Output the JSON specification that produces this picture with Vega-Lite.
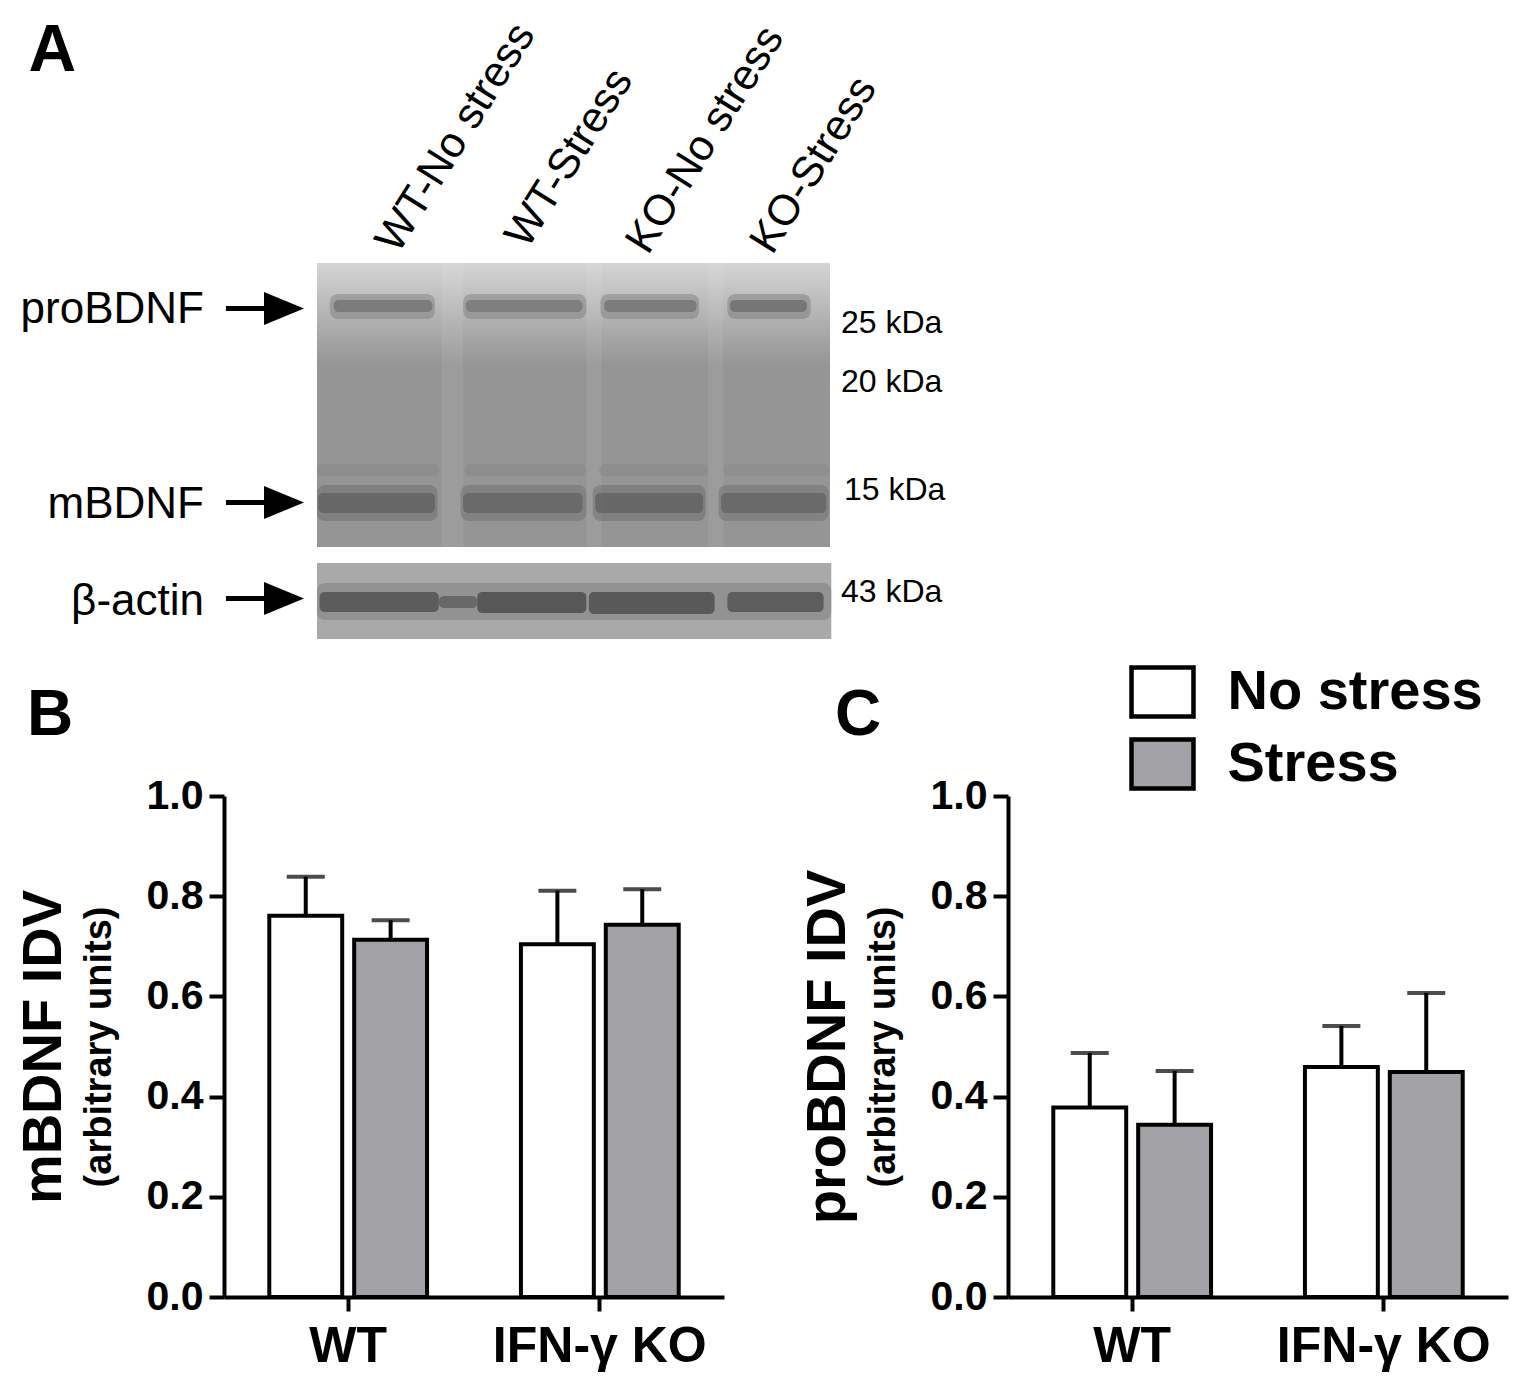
{
  "$schema": "https://vega.github.io/schema/vega-lite/v6.json",
  "background": "white",
  "padding": {"left": 15, "top": 0, "right": 10, "bottom": 10},
  "config": {"view": {"stroke": null}, "font": "Liberation Sans"},
  "datasets": {
    "blot": [
      {"kind": "bg", "x": 0.5, "x2": 4.5, "y": 26.3, "y2": 54.7, "density": 0.4},
      {"kind": "bg", "x": 0.5, "x2": 4.51, "y": 56.3, "y2": 63.9, "density": 0.31},
      {"kind": "glow", "x": 0.5, "x2": 4.5, "y": 26.3, "y2": 36.5},
      {"kind": "streak", "x": 1.47, "x2": 1.64, "y": 26.3, "y2": 54.7, "density": 0.3},
      {"kind": "streak", "x": 2.6, "x2": 2.72, "y": 26.3, "y2": 54.7, "density": 0.3},
      {"kind": "streak", "x": 3.55, "x2": 3.67, "y": 26.3, "y2": 54.7, "density": 0.3},
      {"kind": "halo", "x": 0.6, "x2": 1.42, "y": 29.4, "y2": 31.9, "density": 0.62},
      {"kind": "halo", "x": 1.64, "x2": 2.6, "y": 29.4, "y2": 31.9, "density": 0.62},
      {"kind": "halo", "x": 2.71, "x2": 3.48, "y": 29.4, "y2": 31.9, "density": 0.62},
      {"kind": "halo", "x": 3.7, "x2": 4.35, "y": 29.4, "y2": 31.9, "density": 0.64},
      {"kind": "band", "x": 0.63, "x2": 1.4, "y": 30.0, "y2": 31.2, "density": 0.62},
      {"kind": "band", "x": 1.66, "x2": 2.57, "y": 30.0, "y2": 31.2, "density": 0.6},
      {"kind": "band", "x": 2.74, "x2": 3.46, "y": 30.0, "y2": 31.2, "density": 0.62},
      {"kind": "band", "x": 3.72, "x2": 4.32, "y": 30.0, "y2": 31.2, "density": 0.66},
      {"kind": "halo", "x": 0.5, "x2": 1.45, "y": 46.4, "y2": 47.6, "density": 0.5},
      {"kind": "halo", "x": 1.65, "x2": 2.6, "y": 46.4, "y2": 47.6, "density": 0.5},
      {"kind": "halo", "x": 2.7, "x2": 3.55, "y": 46.4, "y2": 47.6, "density": 0.5},
      {"kind": "halo", "x": 3.67, "x2": 4.5, "y": 46.4, "y2": 47.6, "density": 0.48},
      {"kind": "halo", "x": 0.5, "x2": 1.44, "y": 48.5, "y2": 52.1, "density": 0.68},
      {"kind": "halo", "x": 1.62, "x2": 2.6, "y": 48.5, "y2": 52.1, "density": 0.66},
      {"kind": "halo", "x": 2.65, "x2": 3.53, "y": 48.5, "y2": 52.1, "density": 0.68},
      {"kind": "halo", "x": 3.63, "x2": 4.49, "y": 48.5, "y2": 52.1, "density": 0.66},
      {"kind": "band", "x": 0.51, "x2": 1.42, "y": 49.3, "y2": 51.3, "density": 0.7},
      {"kind": "band", "x": 1.64, "x2": 2.57, "y": 49.3, "y2": 51.3, "density": 0.68},
      {"kind": "band", "x": 2.67, "x2": 3.51, "y": 49.3, "y2": 51.3, "density": 0.7},
      {"kind": "band", "x": 3.65, "x2": 4.47, "y": 49.3, "y2": 51.3, "density": 0.68},
      {"kind": "halo", "x": 0.5, "x2": 4.51, "y": 58.3, "y2": 62.0, "density": 0.62},
      {"kind": "band", "x": 0.52, "x2": 1.45, "y": 59.2, "y2": 61.2, "density": 0.85},
      {"kind": "band", "x": 1.45, "x2": 1.75, "y": 59.6, "y2": 60.8, "density": 0.75},
      {"kind": "band", "x": 1.75, "x2": 2.6, "y": 59.2, "y2": 61.3, "density": 0.9},
      {"kind": "band", "x": 2.62, "x2": 3.6, "y": 59.2, "y2": 61.4, "density": 0.88},
      {"kind": "band", "x": 3.7, "x2": 4.45, "y": 59.2, "y2": 61.2, "density": 0.84}
    ],
    "arrows": [
      {"x": -0.2096, "x2": 0.1257, "head": 0.2427, "y": 30.85},
      {"x": -0.2096, "x2": 0.1257, "head": 0.2427, "y": 50.25},
      {"x": -0.2096, "x2": 0.1257, "head": 0.2427, "y": 59.85}
    ],
    "labels": [
      {"kind": "protein", "text": "proBDNF", "x": -0.381, "y": 32.3},
      {"kind": "protein", "text": "mBDNF", "x": -0.381, "y": 51.8},
      {"kind": "protein", "text": "β-actin", "x": -0.381, "y": 61.5},
      {"kind": "kda", "text": "25 kDa", "x": 4.586, "y": 33.3},
      {"kind": "kda", "text": "20 kDa", "x": 4.586, "y": 39.2},
      {"kind": "kda", "text": "15 kDa", "x": 4.609, "y": 50.0},
      {"kind": "kda", "text": "43 kDa", "x": 4.586, "y": 60.2},
      {"kind": "lane", "text": "WT-No stress", "x": 1.13, "y": 25.5},
      {"kind": "lane", "text": "WT-Stress", "x": 2.14, "y": 25.0},
      {"kind": "lane", "text": "KO-No stress", "x": 3.08, "y": 25.6},
      {"kind": "lane", "text": "KO-Stress", "x": 4.05, "y": 25.6},
      {"kind": "panel", "text": "A", "x": -1.75, "y": 7.1}
    ],
    "bars": [
      {"panel": "mBDNF", "genotype": "WT", "condition": "No stress", "mean": 0.761, "upper": 0.839},
      {"panel": "mBDNF", "genotype": "WT", "condition": "Stress", "mean": 0.713, "upper": 0.752},
      {"panel": "mBDNF", "genotype": "IFN-γ KO", "condition": "No stress", "mean": 0.704, "upper": 0.811},
      {"panel": "mBDNF", "genotype": "IFN-γ KO", "condition": "Stress", "mean": 0.743, "upper": 0.814},
      {"panel": "proBDNF", "genotype": "WT", "condition": "No stress", "mean": 0.378, "upper": 0.487},
      {"panel": "proBDNF", "genotype": "WT", "condition": "Stress", "mean": 0.344, "upper": 0.451},
      {"panel": "proBDNF", "genotype": "IFN-γ KO", "condition": "No stress", "mean": 0.459, "upper": 0.541},
      {"panel": "proBDNF", "genotype": "IFN-γ KO", "condition": "Stress", "mean": 0.449, "upper": 0.607}
    ]
  },
  "spacing": 19,
  "resolve": {"scale": {"fill": "independent"}, "legend": {"fill": "independent"}},
  "vconcat": [
    {
      "width": 606,
      "height": 645,
      "encoding": {
        "x": {"field": "x", "type": "quantitative", "scale": {"domain": [-0.225, 4.5], "nice": false, "zero": false}, "axis": null},
        "y": {"field": "y", "type": "quantitative", "scale": {"domain": [0, 64.5], "nice": false, "zero": false, "reverse": true}, "axis": null}
      },
      "layer": [
        {
          "data": {"name": "blot"},
          "transform": [{"filter": "datum.kind === 'bg'"}],
          "mark": {"type": "rect"},
          "encoding": {
            "x2": {"field": "x2"},
            "y2": {"field": "y2"},
            "fill": {"field": "density", "type": "quantitative", "scale": {"domain": [0, 1], "range": ["#f2f2f2", "#1e1e1e"]}, "legend": null}
          }
        },
        {
          "data": {"name": "blot"},
          "transform": [{"filter": "datum.kind === 'streak'"}],
          "mark": {"type": "rect", "opacity": 0.3},
          "encoding": {
            "x2": {"field": "x2"},
            "y2": {"field": "y2"},
            "fill": {"field": "density", "type": "quantitative"}
          }
        },
        {
          "data": {"name": "blot"},
          "transform": [{"filter": "datum.kind === 'glow'"}],
          "mark": {
            "type": "rect",
            "fill": {
              "gradient": "linear", "x1": 0, "y1": 0, "x2": 0, "y2": 1,
              "stops": [
                {"offset": 0, "color": "rgba(255,255,255,0.6)"},
                {"offset": 1, "color": "rgba(255,255,255,0)"}
              ]
            }
          },
          "encoding": {"x2": {"field": "x2"}, "y2": {"field": "y2"}}
        },
        {
          "data": {"name": "blot"},
          "transform": [{"filter": "datum.kind === 'halo'"}],
          "mark": {"type": "rect", "opacity": 0.35, "cornerRadius": 8},
          "encoding": {
            "x2": {"field": "x2"},
            "y2": {"field": "y2"},
            "fill": {"field": "density", "type": "quantitative"}
          }
        },
        {
          "data": {"name": "blot"},
          "transform": [{"filter": "datum.kind === 'band'"}],
          "mark": {"type": "rect", "opacity": 0.6, "cornerRadius": 5},
          "encoding": {
            "x2": {"field": "x2"},
            "y2": {"field": "y2"},
            "fill": {"field": "density", "type": "quantitative"}
          }
        },
        {
          "data": {"name": "arrows"},
          "mark": {"type": "rule", "color": "black", "strokeWidth": 5},
          "encoding": {"x2": {"field": "x2"}}
        },
        {
          "data": {"name": "arrows"},
          "mark": {"type": "point", "shape": "M-1,-0.825L1,0L-1,0.825Z", "size": 1600, "filled": true, "color": "black", "opacity": 1},
          "encoding": {"x": {"field": "head", "type": "quantitative"}}
        },
        {
          "data": {"name": "labels"},
          "transform": [{"filter": "datum.kind === 'protein'"}],
          "mark": {"type": "text", "align": "right", "baseline": "alphabetic", "fontSize": 44, "color": "black"},
          "encoding": {"text": {"field": "text"}}
        },
        {
          "data": {"name": "labels"},
          "transform": [{"filter": "datum.kind === 'kda'"}],
          "mark": {"type": "text", "align": "left", "baseline": "alphabetic", "fontSize": 32, "color": "black"},
          "encoding": {"text": {"field": "text"}}
        },
        {
          "data": {"name": "labels"},
          "transform": [{"filter": "datum.kind === 'lane'"}],
          "mark": {"type": "text", "align": "left", "baseline": "alphabetic", "angle": -58, "fontSize": 43, "color": "black"},
          "encoding": {"text": {"field": "text"}}
        },
        {
          "data": {"name": "labels"},
          "transform": [{"filter": "datum.kind === 'panel'"}],
          "mark": {"type": "text", "align": "left", "baseline": "alphabetic", "fontSize": 66, "fontWeight": "bold", "color": "black"},
          "encoding": {"text": {"field": "text"}}
        }
      ]
    },
    {
      "spacing": 75,
      "resolve": {"scale": {"fill": "independent"}, "legend": {"fill": "independent"}},
      "hconcat": [
        {
          "width": 500,
          "height": 501,
          "data": {"name": "bars"},
          "transform": [{"filter": "datum.panel === 'mBDNF'"}],
          "title": {"text": "B", "anchor": "start", "frame": "bounds", "fontSize": 64, "fontWeight": "bold", "color": "black", "baseline": "alphabetic", "offset": -24, "dx": 12},
          "encoding": {
            "x": {
              "field": "genotype", "type": "nominal", "sort": ["WT", "IFN-γ KO"],
              "scale": {"paddingInner": 0.373, "paddingOuter": 0.18},
              "axis": {"title": null, "labelAngle": 0, "labelFontSize": 50, "labelFontWeight": "bold", "labelColor": "black", "labelPadding": 10, "labelLimit": 0, "tickSize": 14, "tickWidth": 4, "tickColor": "black", "domainWidth": 4, "domainColor": "black"}
            },
            "xOffset": {"field": "condition", "type": "nominal", "sort": ["No stress", "Stress"], "scale": {"paddingInner": 0.141, "paddingOuter": 0}}
          },
          "layer": [
            {
              "mark": {"type": "bar", "stroke": "black", "strokeWidth": 4},
              "encoding": {
                "y": {
                  "field": "mean", "type": "quantitative", "scale": {"domain": [0, 1], "nice": false},
                  "axis": {"orient": "left", "title": "(arbitrary units)", "titleFontSize": 38, "titleFontWeight": "bold", "titleColor": "black", "titlePadding": 28, "values": [0, 0.2, 0.4, 0.6, 0.8, 1], "format": ".1f", "labelFontSize": 41, "labelFontWeight": "bold", "labelColor": "black", "labelPadding": 6, "tickSize": 15, "tickWidth": 4, "tickColor": "black", "domainWidth": 4, "domainColor": "black", "grid": false}
                },
                "fill": {"field": "condition", "type": "nominal", "scale": {"domain": ["No stress", "Stress"], "range": ["#ffffff", "#a2a2a6"]}, "legend": null}
              }
            },
            {
              "mark": {"type": "rule", "color": "black", "strokeWidth": 4},
              "encoding": {
                "y": {"field": "mean", "type": "quantitative", "axis": {"orient": "left", "title": "mBDNF IDV", "titleFontSize": 56, "titleFontWeight": "bold", "titleColor": "black", "titlePadding": 152, "labels": false, "ticks": false, "domain": false, "grid": false}},
                "y2": {"field": "upper"}
              }
            },
            {
              "mark": {"type": "tick", "color": "black", "thickness": 4, "size": 38},
              "encoding": {"y": {"field": "upper", "type": "quantitative", "axis": null}}
            }
          ],
          "resolve": {"axis": {"y": "independent"}}
        },
        {
          "width": 500,
          "height": 501,
          "data": {"name": "bars"},
          "transform": [{"filter": "datum.panel === 'proBDNF'"}],
          "title": {"text": "C", "anchor": "start", "frame": "bounds", "fontSize": 64, "fontWeight": "bold", "color": "black", "baseline": "alphabetic", "offset": -135, "dx": 36},
          "encoding": {
            "x": {
              "field": "genotype", "type": "nominal", "sort": ["WT", "IFN-γ KO"],
              "scale": {"paddingInner": 0.373, "paddingOuter": 0.18},
              "axis": {"title": null, "labelAngle": 0, "labelFontSize": 50, "labelFontWeight": "bold", "labelColor": "black", "labelPadding": 10, "labelLimit": 0, "tickSize": 14, "tickWidth": 4, "tickColor": "black", "domainWidth": 4, "domainColor": "black"}
            },
            "xOffset": {"field": "condition", "type": "nominal", "sort": ["No stress", "Stress"], "scale": {"paddingInner": 0.141, "paddingOuter": 0}}
          },
          "layer": [
            {
              "mark": {"type": "bar", "stroke": "black", "strokeWidth": 4},
              "encoding": {
                "y": {
                  "field": "mean", "type": "quantitative", "scale": {"domain": [0, 1], "nice": false},
                  "axis": {"orient": "left", "title": "(arbitrary units)", "titleFontSize": 38, "titleFontWeight": "bold", "titleColor": "black", "titlePadding": 28, "values": [0, 0.2, 0.4, 0.6, 0.8, 1], "format": ".1f", "labelFontSize": 41, "labelFontWeight": "bold", "labelColor": "black", "labelPadding": 6, "tickSize": 15, "tickWidth": 4, "tickColor": "black", "domainWidth": 4, "domainColor": "black", "grid": false}
                },
                "fill": {
                  "field": "condition", "type": "nominal", "scale": {"domain": ["No stress", "Stress"], "range": ["#ffffff", "#a2a2a6"]},
                  "legend": {"orient": "none", "legendX": 126.5, "legendY": -132, "title": null, "padding": 0, "symbolType": "M-1.265,-1L1.265,-1L1.265,1L-1.265,1Z", "symbolSize": 2401, "symbolStrokeColor": "black", "symbolStrokeWidth": 4.5, "symbolOpacity": 1, "labelFontSize": 56, "labelFontWeight": "bold", "labelColor": "black", "labelOffset": 37, "labelLimit": 0, "rowPadding": 4}
                }
              }
            },
            {
              "mark": {"type": "rule", "color": "black", "strokeWidth": 4},
              "encoding": {
                "y": {"field": "mean", "type": "quantitative", "axis": {"orient": "left", "title": "proBDNF IDV", "titleFontSize": 56, "titleFontWeight": "bold", "titleColor": "black", "titlePadding": 152, "labels": false, "ticks": false, "domain": false, "grid": false}},
                "y2": {"field": "upper"}
              }
            },
            {
              "mark": {"type": "tick", "color": "black", "thickness": 4, "size": 38},
              "encoding": {"y": {"field": "upper", "type": "quantitative", "axis": null}}
            }
          ],
          "resolve": {"axis": {"y": "independent"}}
        }
      ]
    }
  ]
}
